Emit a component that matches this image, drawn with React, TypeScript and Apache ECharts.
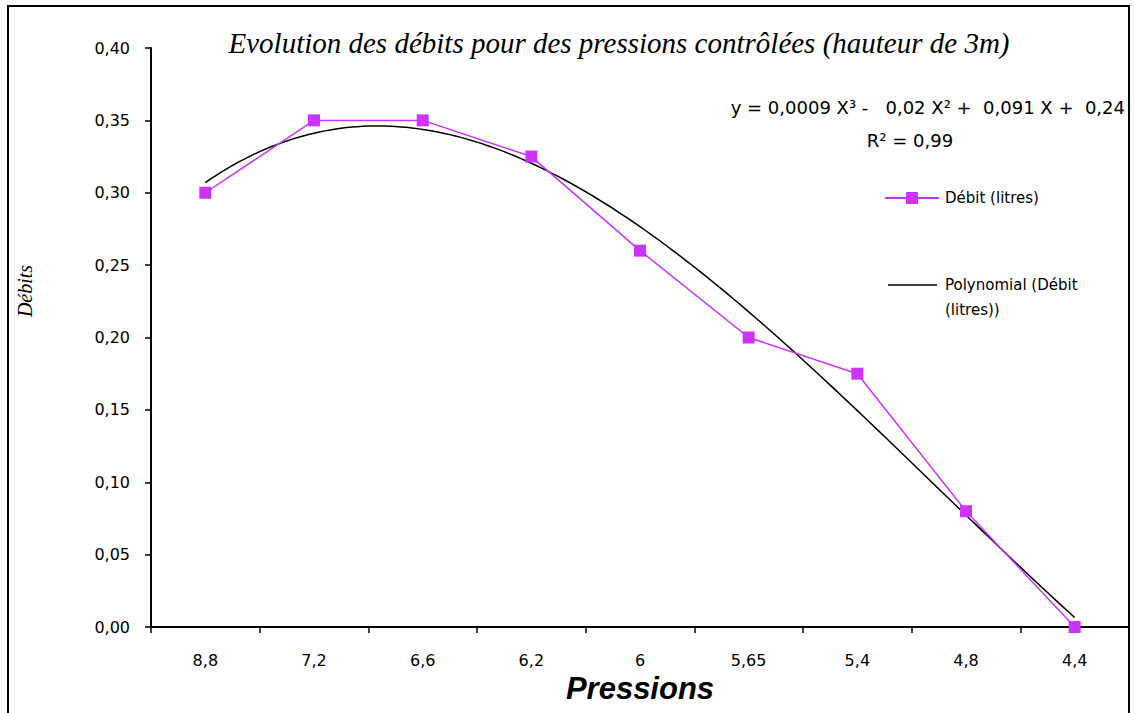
import React, { useEffect, useRef } from "react";
import * as echarts from "echarts";

const categories = ["8,8", "7,2", "6,6", "6,2", "6", "5,65", "5,4", "4,8", "4,4"];
const debit = [0.3, 0.35, 0.35, 0.325, 0.26, 0.2, 0.175, 0.08, 0.0];
const seriesName = "Débit (litres)";
const trendName = "Polynomial (Débit (litres))";
const trendLegendLines = ["Polynomial (Débit", "(litres))"];
const titleText = "Evolution des débits pour des pressions contrôlées (hauteur de 3m)";
const equationText = "y = 0,0009 X³ -   0,02 X² +  0,091 X +  0,24";
const r2Text = "R² = 0,99";
const magenta = "#cc33ff";

// least-squares cubic fit of the data (x = 1..n), like the spreadsheet trendline
function cubicFit(ys: number[]): number[] {
  const n = 4;
  const A: number[][] = Array.from({ length: n }, () => new Array(n + 1).fill(0));
  ys.forEach((y, i) => {
    const x = i + 1;
    for (let r = 0; r < n; r++) {
      for (let c = 0; c < n; c++) A[r][c] += Math.pow(x, r + c);
      A[r][n] += y * Math.pow(x, r);
    }
  });
  for (let i = 0; i < n; i++) {
    let p = i;
    for (let k = i + 1; k < n; k++) if (Math.abs(A[k][i]) > Math.abs(A[p][i])) p = k;
    [A[i], A[p]] = [A[p], A[i]];
    for (let k = 0; k < n; k++) {
      if (k === i) continue;
      const f = A[k][i] / A[i][i];
      for (let c = i; c <= n; c++) A[k][c] -= f * A[i][c];
    }
  }
  return A.map((row, i) => row[n] / row[i]);
}

export default function App() {
  const ref = useRef<HTMLDivElement>(null);
  useEffect(() => {
    const chart = echarts.init(ref.current!, undefined, { renderer: "svg" });
    const coef = cubicFit(debit);
    const trend: number[][] = [];
    for (let x = 1; x <= debit.length + 1e-9; x += 0.05) {
      const y = coef[0] + coef[1] * x + coef[2] * x * x + coef[3] * x * x * x;
      trend.push([x, y]);
    }
    const sans = "DejaVu Sans";
    chart.setOption({
      animation: false,
      backgroundColor: "#ffffff",
      grid: { left: 151, right: 6, top: 48, bottom: 86, containLabel: false, outerBoundsMode: "none" },
      title: {
        text: titleText,
        left: 614,
        textAlign: "center",
        top: 23,
        textStyle: {
          fontFamily: "Liberation Serif",
          fontStyle: "italic",
          fontWeight: "normal",
          fontSize: 29,
          color: "#000",
        },
      },
      legend: { show: false },
      xAxis: [
        {
          type: "category",
          data: categories,
          boundaryGap: true,
          axisLine: { lineStyle: { color: "#000", width: 2 } },
          axisTick: { show: true, inside: false, length: 6, lineStyle: { color: "#000", width: 1.5 } },
          axisLabel: { color: "#000", fontFamily: sans, fontSize: 16, margin: 25 },
          name: "Pressions",
          nameLocation: "middle",
          nameGap: 43,
          nameTextStyle: {
            fontFamily: "Liberation Sans",
            fontStyle: "italic",
            fontWeight: "bold",
            fontSize: 31,
            color: "#000",
          },
          splitLine: { show: false },
        },
        {
          type: "value",
          min: 0.5,
          max: categories.length + 0.5,
          show: false,
        },
      ],
      yAxis: {
        type: "value",
        min: 0,
        max: 0.4,
        interval: 0.05,
        axisLine: { show: true, lineStyle: { color: "#000", width: 2 } },
        axisTick: { show: true, length: 6, lineStyle: { color: "#000", width: 1.5 } },
        axisLabel: {
          color: "#000",
          fontFamily: sans,
          fontSize: 16,
          margin: 21,
          formatter: (v: number) => v.toFixed(2).replace(".", ","),
        },
        splitLine: { show: false },
      },
      graphic: [
        {
          type: "rect",
          shape: { x: 8, y: 6, width: 1121, height: 730 },
          style: { fill: "none", stroke: "#000", lineWidth: 2 },
          silent: true,
        },
        {
          type: "text",
          x: 25,
          y: 291,
          rotation: Math.PI / 2,
          style: {
            text: "Débits",
            fontFamily: "Liberation Serif",
            fontStyle: "italic",
            fontSize: 20,
            fill: "#000",
            align: "center",
            verticalAlign: "middle",
          },
        },
        {
          type: "text",
          x: 1125,
          y: 107,
          style: {
            text: equationText,
            fontFamily: sans,
            fontSize: 18,
            fill: "#000",
            align: "right",
            verticalAlign: "middle",
          },
        },
        {
          type: "text",
          x: 910,
          y: 140,
          style: {
            text: r2Text,
            fontFamily: sans,
            fontSize: 18,
            fill: "#000",
            align: "center",
            verticalAlign: "middle",
          },
        },
        // legend
        {
          type: "line",
          shape: { x1: 885, y1: 198, x2: 939, y2: 198 },
          style: { stroke: magenta, lineWidth: 2 },
        },
        {
          type: "rect",
          shape: { x: 906, y: 192, width: 12, height: 12 },
          style: { fill: magenta },
        },
        {
          type: "text",
          x: 945,
          y: 198,
          style: {
            text: seriesName,
            fontFamily: sans,
            fontSize: 15,
            fill: "#000",
            verticalAlign: "middle",
          },
        },
        {
          type: "line",
          shape: { x1: 888, y1: 285, x2: 937, y2: 285 },
          style: { stroke: "#000", lineWidth: 1.5 },
        },
        {
          type: "text",
          x: 945,
          y: 285,
          style: {
            text: trendLegendLines[0],
            fontFamily: sans,
            fontSize: 15,
            fill: "#000",
            verticalAlign: "middle",
          },
        },
        {
          type: "text",
          x: 945,
          y: 310,
          style: {
            text: trendLegendLines[1],
            fontFamily: sans,
            fontSize: 15,
            fill: "#000",
            verticalAlign: "middle",
          },
        },
      ],
      series: [
        {
          name: trendName,
          type: "line",
          xAxisIndex: 1,
          data: trend,
          showSymbol: false,
          symbol: "none",
          lineStyle: { color: "#000", width: 1.5 },
          itemStyle: { color: "#000" },
          z: 2,
        },
        {
          name: seriesName,
          type: "line",
          xAxisIndex: 0,
          data: debit,
          symbol: "rect",
          symbolSize: 12,
          lineStyle: { color: magenta, width: 1.5 },
          itemStyle: { color: magenta },
          z: 3,
        },
      ],
    });
    return () => chart.dispose();
  }, []);
  return (
    <div
      ref={ref}
      style={{ position: "fixed", left: 0, top: 0, width: 1135, height: 713, background: "#fff" }}
    />
  );
}
